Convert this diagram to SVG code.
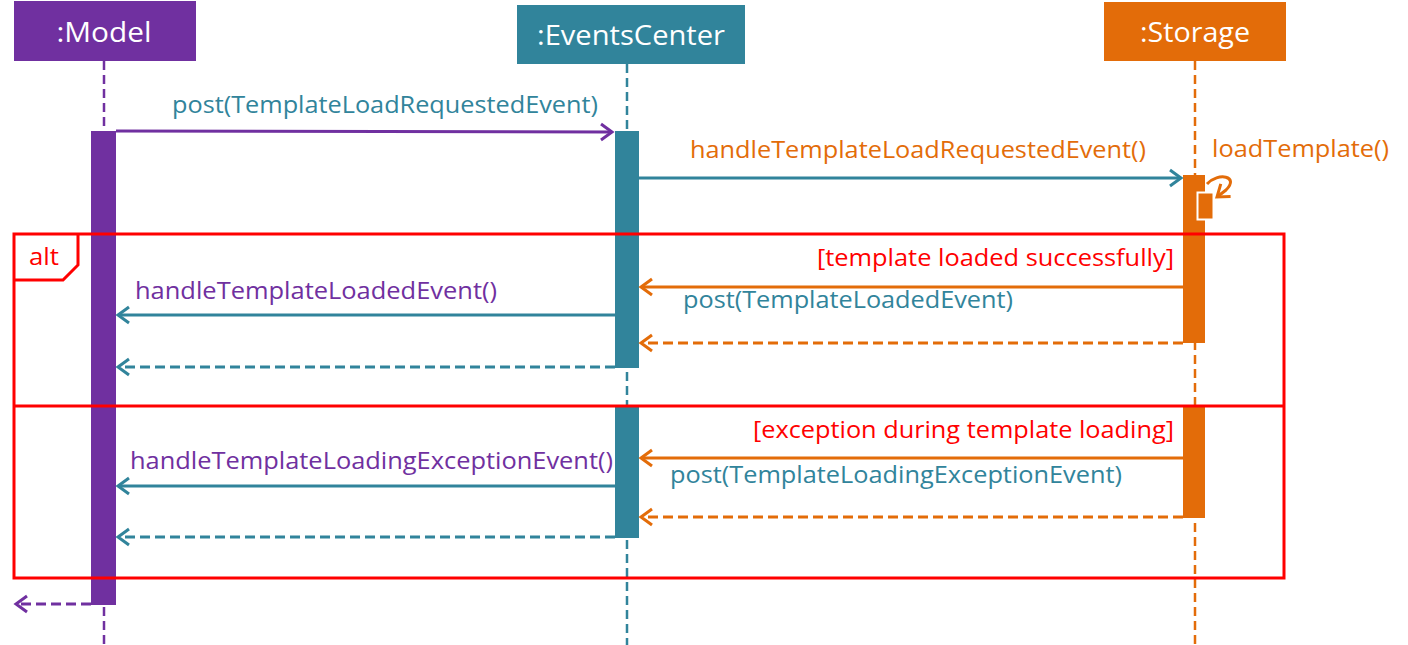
<svg xmlns="http://www.w3.org/2000/svg" width="1408" height="645" viewBox="0 0 1408 645">
<style>
.hd{font-family:"Open Sans","Liberation Sans",sans-serif;font-size:28px;fill:#fff}
.lb{font-family:"Open Sans","Liberation Sans",sans-serif;font-size:23px}
.p{fill:#7030A0}.t{fill:#31849B}.o{fill:#E36C09}.r{fill:#FF0000}
.ll{stroke-width:2.5;stroke-dasharray:9,5;fill:none}
.m{stroke-width:3;fill:none}
.d{stroke-dasharray:10,5}
</style>
<defs>
<marker id="ap" markerWidth="16" markerHeight="20" refX="13" refY="10" orient="auto" markerUnits="userSpaceOnUse"><polyline points="2,2 13,10 2,18" fill="none" stroke="#7030A0" stroke-width="3"/></marker>
<marker id="at" markerWidth="16" markerHeight="20" refX="13" refY="10" orient="auto" markerUnits="userSpaceOnUse"><polyline points="2,2 13,10 2,18" fill="none" stroke="#31849B" stroke-width="3"/></marker>
<marker id="ao" markerWidth="16" markerHeight="20" refX="13" refY="10" orient="auto" markerUnits="userSpaceOnUse"><polyline points="2,2 13,10 2,18" fill="none" stroke="#E36C09" stroke-width="3"/></marker>
</defs>
<rect width="1408" height="645" fill="#fff"/>
<g id="model">
<rect x="14" y="1" width="182" height="60" fill="#7030A0"/>
<text class="hd" x="104" y="42" text-anchor="middle" textLength="95" lengthAdjust="spacingAndGlyphs">:Model</text>
<line class="ll" x1="104" y1="61" x2="104" y2="645" stroke="#7030A0"/>
<rect x="91" y="131" width="25" height="474" fill="#7030A0"/>
</g>
<g id="eventscenter">
<rect x="517" y="5" width="228" height="59" fill="#31849B"/>
<text class="hd" x="631" y="45" text-anchor="middle" textLength="188" lengthAdjust="spacingAndGlyphs">:EventsCenter</text>
<line class="ll" x1="627" y1="64" x2="627" y2="645" stroke="#31849B"/>
<rect x="615" y="131" width="24" height="237" fill="#31849B"/>
<rect x="615" y="407" width="24" height="131" fill="#31849B"/>
</g>
<g id="storage">
<rect x="1104" y="2" width="182" height="59" fill="#E36C09"/>
<text class="hd" x="1195" y="42" text-anchor="middle" textLength="110" lengthAdjust="spacingAndGlyphs">:Storage</text>
<line class="ll" x1="1195" y1="61" x2="1195" y2="645" stroke="#E36C09"/>
<rect x="1183" y="175" width="22" height="168" fill="#E36C09"/>
<rect x="1183" y="407" width="22" height="111" fill="#E36C09"/>
<rect x="1197.5" y="192.5" width="16" height="27" fill="#E36C09" stroke="#fff" stroke-width="2"/>
</g>
<g id="alt">
<rect x="14" y="234" width="1270" height="344" fill="none" stroke="#FF0000" stroke-width="3"/>
<line x1="14" y1="406" x2="1284" y2="406" stroke="#FF0000" stroke-width="3"/>
<polyline points="78,234 78,265 63,280 14,280" fill="none" stroke="#FF0000" stroke-width="3"/>
<text class="lb r" x="29" y="265" textLength="30" lengthAdjust="spacingAndGlyphs">alt</text>
<text class="lb r" x="1174" y="266" text-anchor="end" textLength="357" lengthAdjust="spacingAndGlyphs">[template loaded successfully]</text>
<text class="lb r" x="1174" y="438" text-anchor="end" textLength="421" lengthAdjust="spacingAndGlyphs">[exception during template loading]</text>
</g>
<g id="connectors">
<line class="m" x1="116" y1="131" x2="612" y2="132" stroke="#7030A0" marker-end="url(#ap)"/>
<line class="m" x1="639" y1="178" x2="1181" y2="178" stroke="#31849B" marker-end="url(#at)"/>
<path class="m" d="M1207,184 C1218,172 1240,176 1226,190 L1217,197" stroke="#E36C09" marker-end="url(#ao)"/>
<line class="m" x1="1183" y1="287" x2="641" y2="287" stroke="#E36C09" marker-end="url(#ao)"/>
<line class="m" x1="615" y1="315" x2="118" y2="315" stroke="#31849B" marker-end="url(#at)"/>
<line class="m d" x1="1183" y1="343" x2="641" y2="343" stroke="#E36C09" marker-end="url(#ao)"/>
<line class="m d" x1="615" y1="367" x2="118" y2="367" stroke="#31849B" marker-end="url(#at)"/>
<line class="m" x1="1183" y1="458" x2="641" y2="458" stroke="#E36C09" marker-end="url(#ao)"/>
<line class="m" x1="615" y1="486" x2="118" y2="486" stroke="#31849B" marker-end="url(#at)"/>
<line class="m d" x1="1183" y1="517" x2="641" y2="517" stroke="#E36C09" marker-end="url(#ao)"/>
<line class="m d" x1="615" y1="537" x2="118" y2="537" stroke="#31849B" marker-end="url(#at)"/>
<line class="m d" x1="91" y1="604" x2="16" y2="604" stroke="#7030A0" marker-end="url(#ap)"/>
<text class="lb t" x="172" y="113" textLength="426" lengthAdjust="spacingAndGlyphs">post(TemplateLoadRequestedEvent)</text>
<text class="lb o" x="690" y="158" textLength="456" lengthAdjust="spacingAndGlyphs">handleTemplateLoadRequestedEvent()</text>
<text class="lb o" x="1212" y="157" textLength="177" lengthAdjust="spacingAndGlyphs">loadTemplate()</text>
<text class="lb t" x="683" y="308" textLength="330" lengthAdjust="spacingAndGlyphs">post(TemplateLoadedEvent)</text>
<text class="lb p" x="135" y="299" textLength="362" lengthAdjust="spacingAndGlyphs">handleTemplateLoadedEvent()</text>
<text class="lb p" x="130" y="469" textLength="483" lengthAdjust="spacingAndGlyphs">handleTemplateLoadingExceptionEvent()</text>
<text class="lb t" x="670" y="483" textLength="452" lengthAdjust="spacingAndGlyphs">post(TemplateLoadingExceptionEvent)</text>
</g>
</svg>
